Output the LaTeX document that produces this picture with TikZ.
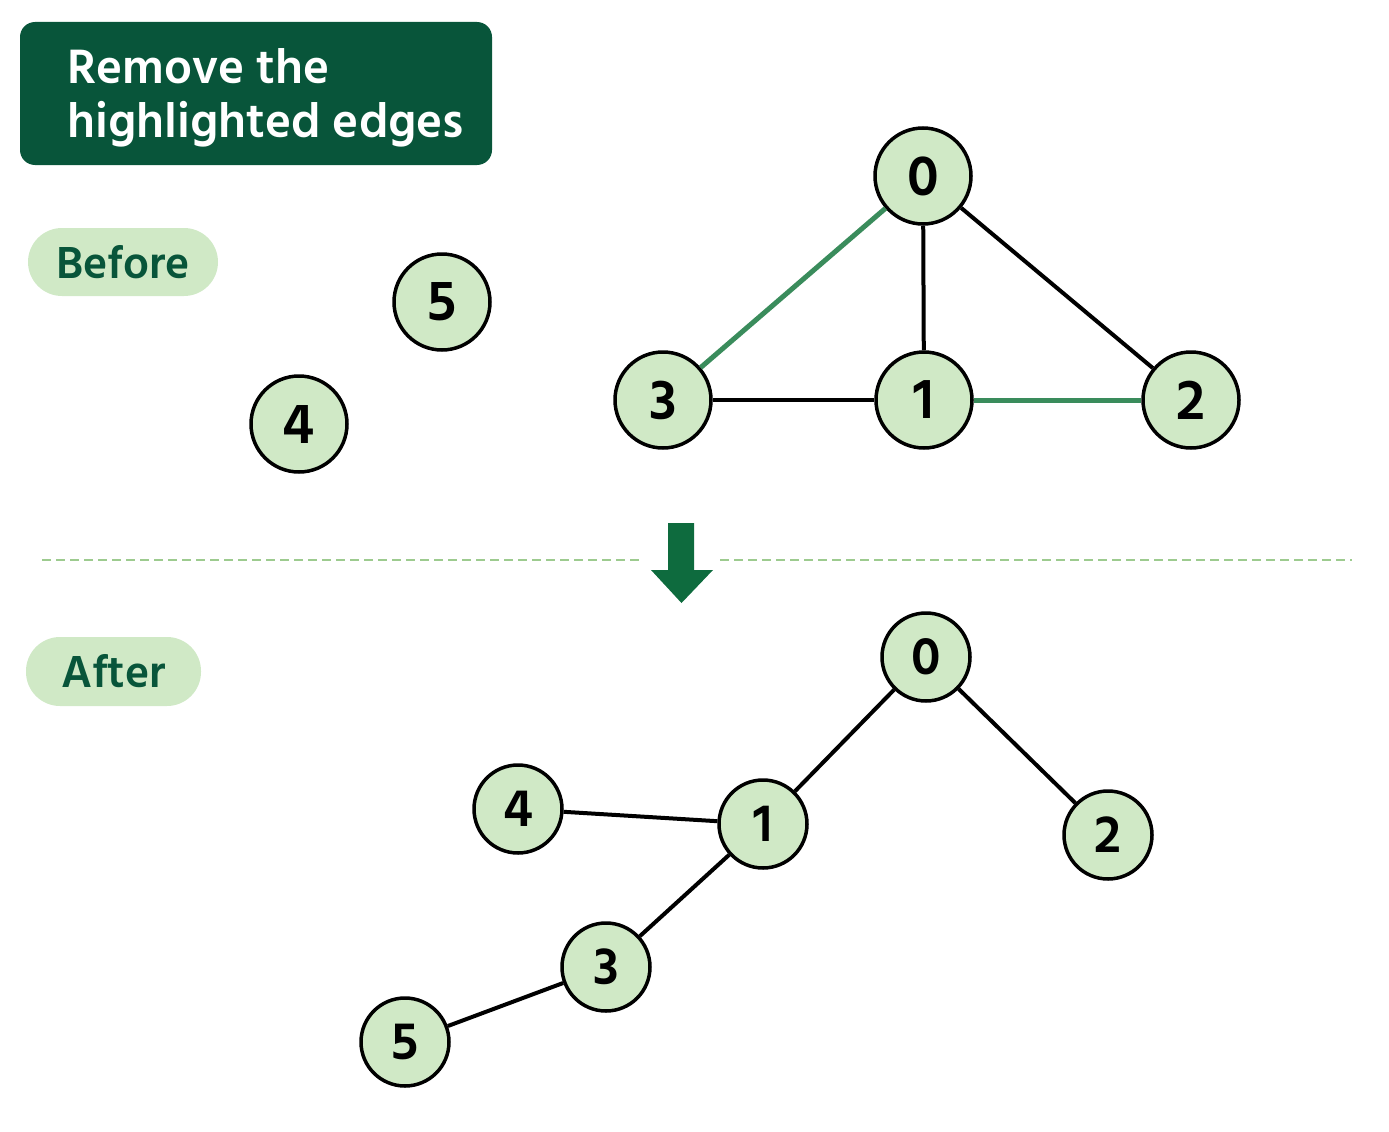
\documentclass[tikz,border=0pt]{standalone}
\usepackage{fontspec}
\setmainfont{Hind Siliguri}
\definecolor{darkg}{HTML}{08553A}
\definecolor{lightg}{HTML}{D0E9C6}
\definecolor{hlg}{HTML}{3A8C5C}
\definecolor{dashg}{HTML}{9DCB8F}
\definecolor{arrowg}{HTML}{0E6B3E}
\begin{document}
\begin{tikzpicture}[x=1pt,y=-1pt,
  vtx/.style={circle,draw=black,line width=3.5pt,fill=lightg,minimum size=96pt,inner sep=0pt,font=\fontsize{58}{58}\selectfont\bfseries},
  vtxs/.style={vtx,minimum size=88pt,font=\fontsize{54}{54}\selectfont\bfseries},
  edge/.style={line width=4pt,black},
  hedge/.style={line width=5pt,hlg},
  pill/.style={rounded corners=34pt,fill=lightg,text=darkg,font=\fontsize{46}{46}\selectfont\bfseries,inner sep=0pt,anchor=center}]
\useasboundingbox (0,0) rectangle (1389,1132);
% title
\node[fill=darkg,rounded corners=15pt,minimum width=472pt,minimum height=143pt,inner sep=0pt] (title) at (256,93.5) {};
\node[text=white,align=left,anchor=west,font=\fontsize{49.5}{54}\selectfont\bfseries] (titletxt) at (64,98) {Remove the\\highlighted edges};
% pills
\node[pill,minimum width=190pt,minimum height=68pt] (before) at (123,262) {Before};
\node[pill,minimum width=175pt,minimum height=69pt] (after) at (113.5,671.5) {After};
% before graph
\node[vtx] (b0) at (923,176) {0};
\node[vtx] (b3) at (663,400) {3};
\node[vtx] (b1) at (924,400) {1};
\node[vtx] (b2) at (1191,400) {2};
\node[vtx] (b5) at (442,302) {5};
\node[vtx] (b4) at (299,424) {4};
\draw[hedge] (b0) -- (b3);
\draw[hedge] (b1) -- (b2);
\draw[edge] (b0) -- (b1);
\draw[edge] (b0) -- (b2);
\draw[edge] (b3) -- (b1);
% divider
\coordinate (dl1) at (42,560);
\coordinate (dl2) at (643,560);
\coordinate (dr1) at (720,560);
\coordinate (dr2) at (1352,560);
\draw[dashg,line width=2.5pt,dash pattern=on 9pt off 5pt] (dl1) -- (dl2);
\draw[dashg,line width=2.5pt,dash pattern=on 9pt off 5pt] (dr1) -- (dr2);
\fill[arrowg] (668,523) -- (694,523) -- (694,570) -- (713,570) -- (681.5,603) -- (651,570) -- (668,570) -- cycle;
% after graph
\node[vtxs] (a0) at (926,657) {0};
\node[vtxs] (a1) at (763,824) {1};
\node[vtxs] (a2) at (1108,835) {2};
\node[vtxs] (a4) at (518,809) {4};
\node[vtxs] (a3) at (606,967) {3};
\node[vtxs] (a5) at (405,1042) {5};
\draw[edge] (a0) -- (a1);
\draw[edge] (a0) -- (a2);
\draw[edge] (a4) -- (a1);
\draw[edge] (a1) -- (a3);
\draw[edge] (a3) -- (a5);
\end{tikzpicture}
\end{document}
